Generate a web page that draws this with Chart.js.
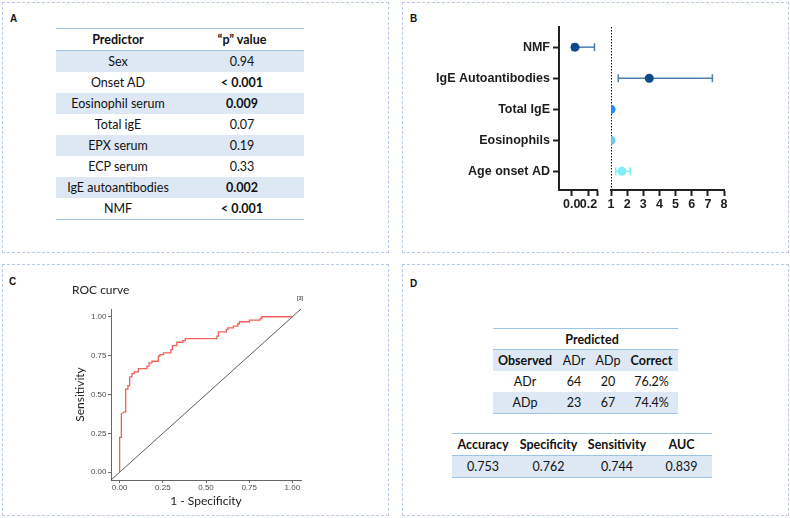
<!DOCTYPE html>
<html>
<head>
<meta charset="utf-8">
<script src="https://cdn.jsdelivr.net/npm/chart.js@4.4.1/dist/chart.umd.min.js"></script>
<style>
  body { margin: 0; background: #fff; }
  #page { position: relative; width: 790px; height: 518px; overflow: hidden; font-family: Lato, "Open Sans", sans-serif; color: #111; }
  .panel { position: absolute; border: 1px dashed #b7c9e6; box-sizing: border-box; }
  .tag { position: absolute; font: bold 10px "Liberation Sans", Arial, sans-serif; color: #111; }
  table { position: absolute; border-collapse: collapse; font-size: 12.5px; table-layout: fixed; }
  td, th { height: 21px; padding: 0; text-align: center; white-space: nowrap; }
  th { font-weight: bold; }
  .bline-top { border-top: 1.5px solid #9dc3e6; }
  .bline-bot { border-bottom: 1.5px solid #9dc3e6; }
  .shade { background: #dde8f4; }
  canvas { position: absolute; }
  #refTag { position: absolute; left: 297px; top: 295px; font: bold 5px "Liberation Sans", Arial, sans-serif; color: #555; }
</style>
</head>
<body>
<div id="page">
  <div class="panel" style="left:2px;top:2px;width:387px;height:251px"></div>
  <div class="panel" style="left:402px;top:2px;width:387px;height:251px"></div>
  <div class="panel" style="left:2px;top:264px;width:387px;height:252px"></div>
  <div class="panel" style="left:402px;top:264px;width:387px;height:252px"></div>
  <span class="tag" style="left:10px;top:13px">A</span>
  <span class="tag" style="left:410px;top:13px">B</span>
  <span class="tag" style="left:9px;top:276px">C</span>
  <span class="tag" style="left:410px;top:278px">D</span>

  <table id="tableA" style="left:56px;top:28px;width:248px">
    <colgroup><col style="width:124px"><col style="width:124px"></colgroup>
    <thead><tr><th class="bline-top bline-bot">Predictor</th><th class="bline-top bline-bot">“p” value</th></tr></thead>
    <tbody></tbody>
  </table>

  <canvas id="forestChart" width="380" height="235" style="left:402px;top:10px"></canvas>

  <canvas id="rocChart" width="262" height="230" style="left:60px;top:280px"></canvas>
  <span id="refTag">[3]</span>

  <table id="confTable" style="left:493px;top:328px;width:185px">
    <colgroup><col style="width:64px"><col style="width:34px"><col style="width:34px"><col style="width:53px"></colgroup>
    <tbody></tbody>
  </table>

  <table id="metricTable" style="left:452px;top:433px;width:260px">
    <colgroup><col style="width:62px"><col style="width:69px"><col style="width:68px"><col style="width:61px"></colgroup>
    <tbody></tbody>
  </table>
</div>

<script>
// panel A
const predictors = ["Sex", "Onset AD", "Eosinophil serum", "Total igE", "EPX serum", "ECP serum", "IgE autoantibodies", "NMF"];
const pValues = ["0.94", "< 0.001", "0.009", "0.07", "0.19", "0.33", "0.002", "< 0.001"];

// panel B
const forestLabels = ["NMF", "IgE Autoantibodies", "Total IgE", "Eosinophils", "Age onset AD"];
const oddsRatio = [0.04, 3.37, 1.0, 1.0, 1.67];
const ciLower = [0.005, 1.45, 0.99, 0.99, 1.29];
const ciUpper = [0.27, 7.28, 1.01, 1.01, 2.19];
const pointColors = ["#0c4a8a", "#0c4a8a", "#1d8ff2", "#6cc6f4", "#7eeef6"];
const ciColors = ["#4c7cb2", "#4c7cb2", "#1d8ff2", "#6cc6f4", "#7eeef6"];
const leftTicks = [0, 0.2, 0.3];
const rightTicks = [1, 2, 3, 4, 5, 6, 7, 8];

// panel C
const rocFpr = [0, 0, 0.01, 0.01, 0.025, 0.035, 0.035, 0.048, 0.048, 0.058, 0.058, 0.071, 0.071, 0.085, 0.085, 0.108, 0.108,
  0.158, 0.158, 0.17, 0.17, 0.187, 0.187, 0.224, 0.224, 0.233, 0.233, 0.254, 0.254, 0.297, 0.297, 0.306, 0.306,
  0.331, 0.331, 0.366, 0.366, 0.38, 0.38, 0.563, 0.563, 0.572, 0.572, 0.618, 0.618, 0.626, 0.626, 0.659, 0.659,
  0.684, 0.684, 0.694, 0.694, 0.751, 0.751, 0.813, 0.813, 0.823, 0.823, 1];
const rocTpr = [0, 0.224, 0.224, 0.376, 0.387, 0.387, 0.535, 0.535, 0.557, 0.557, 0.613, 0.613, 0.634, 0.634, 0.645, 0.645, 0.667,
  0.667, 0.682, 0.682, 0.703, 0.703, 0.714, 0.714, 0.746, 0.746, 0.757, 0.757, 0.768, 0.768, 0.789, 0.789, 0.815,
  0.815, 0.836, 0.836, 0.847, 0.847, 0.86, 0.86, 0.875, 0.875, 0.903, 0.903, 0.918, 0.918, 0.929, 0.929, 0.94,
  0.94, 0.955, 0.955, 0.968, 0.968, 0.979, 0.979, 0.989, 0.989, 1, 1];
const rocTicks = [0, 0.25, 0.5, 0.75, 1];

// panel D
const observedClasses = ["ADr", "ADp"];
const predictedADr = [64, 23];
const predictedADp = [20, 67];
const percentCorrect = ["76.2%", "74.4%"];
const metricNames = ["Accuracy", "Specificity", "Sensitivity", "AUC"];
const metricValues = [0.753, 0.762, 0.744, 0.839];

function isSignificant(p) {
    return p.startsWith("<") || parseFloat(p) < 0.05;
}

// table A
const bodyA = document.querySelector("#tableA tbody");
predictors.forEach(function (name, i) {
    const tr = document.createElement("tr");
    if (i % 2 === 0) tr.className = "shade";
    const last = i === predictors.length - 1 ? " bline-bot" : "";
    tr.innerHTML = '<td class="' + last + '">' + name + '</td><td class="' + last + '"' +
        (isSignificant(pValues[i]) ? ' style="font-weight:bold"' : '') + '>' + pValues[i] + '</td>';
    bodyA.appendChild(tr);
});

// tables D
const bodyConf = document.querySelector("#confTable tbody");
bodyConf.innerHTML =
    '<tr><th colspan="4" class="bline-top bline-bot" style="height:20px;padding-left:13px">Predicted</th></tr>' +
    '<tr class="shade"><th>Observed</th><td>' + observedClasses[0] + '</td><td>' + observedClasses[1] + '</td><th>Correct</th></tr>';
observedClasses.forEach(function (cls, i) {
    const last = i === observedClasses.length - 1 ? ' class="bline-bot"' : '';
    const tr = document.createElement("tr");
    if (i % 2 === 1) tr.className = "shade";
    tr.innerHTML = '<td' + last + '>' + cls + '</td><td' + last + '>' + predictedADr[i] + '</td><td' + last + '>' +
        predictedADp[i] + '</td><td' + last + '>' + percentCorrect[i] + '</td>';
    bodyConf.appendChild(tr);
});

const bodyMetric = document.querySelector("#metricTable tbody");
bodyMetric.innerHTML =
    '<tr>' + metricNames.map(n => '<th class="bline-top bline-bot">' + n + '</th>').join("") + '</tr>' +
    '<tr class="shade">' + metricValues.map(v => '<td class="bline-bot">' + v.toFixed(3) + '</td>').join("") + '</tr>';

// forest plot
const forestSets = [];
forestLabels.forEach(function (label, i) {
    const axis = oddsRatio[i] < 0.5 ? "xl" : "xr";
    forestSets.push({
        type: "scatter",
        xAxisID: axis, yAxisID: "y",
        data: [{ x: oddsRatio[i], y: i + 1 }],
        pointRadius: 4.5,
        pointBackgroundColor: pointColors[i],
        pointBorderWidth: 0,
        order: 0
    });
    forestSets.push({
        type: "line",
        showLine: true,
        xAxisID: axis, yAxisID: "y",
        data: [{ x: ciLower[i], y: i + 1 }, { x: ciUpper[i], y: i + 1 }],
        borderColor: ciColors[i],
        borderWidth: 1.5,
        pointStyle: "line",
        pointRotation: 90,
        pointRadius: 4,
        pointBorderColor: ciColors[i],
        pointBorderWidth: 1.5,
        order: 1
    });
});
// reference line at OR = 1
forestSets.push({
    type: "line",
    showLine: true,
    xAxisID: "xr", yAxisID: "y",
    data: [{ x: 1, y: 0.35 }, { x: 1, y: 5.6 }],
    borderColor: "#111",
    borderWidth: 2,
    borderDash: [1.5, 1.5],
    pointRadius: 0,
    order: 2
});

const boldFont = { family: "'Liberation Sans', Arial, sans-serif", size: 12.5, weight: "bold" };
const forestAxis = {
    type: "linear",
    position: "bottom",
    stack: "x",
    afterFit: function (s) { s.height = 55; },
    border: { color: "#222", width: 2 },
    grid: { drawOnChartArea: false, tickLength: 6, tickWidth: 2, tickColor: "#222" },
    ticks: { padding: 1, color: "#1c1c1c", font: boldFont, autoSkip: false, maxRotation: 0 }
};

new Chart(document.getElementById("forestChart"), {
    type: "scatter",
    data: { datasets: forestSets },
    options: {
        responsive: false,
        animation: false,
        devicePixelRatio: 1,
        layout: { padding: { left: 0, top: 17, right: 58, bottom: 0 } },
        plugins: { legend: { display: false }, tooltip: { enabled: false } },
        scales: {
            y: {
                type: "linear",
                position: "left",
                reverse: true,
                min: 0.35,
                max: 5.6,
                afterBuildTicks: function (s) { s.ticks = forestLabels.map((_, i) => ({ value: i + 1 })); },
                afterFit: function (s) { s.width = 157; },
                border: { color: "#222", width: 2 },
                grid: { drawOnChartArea: false, tickLength: 6, tickWidth: 2, tickColor: "#222" },
                ticks: { padding: 3, color: "#1c1c1c", font: boldFont, callback: v => forestLabels[v - 1] }
            },
            xl: Object.assign({}, forestAxis, {
                stackWeight: 38, weight: 1, min: -0.15, max: 0.3,
                afterBuildTicks: function (s) { s.ticks = leftTicks.map(v => ({ value: v })); },
                ticks: Object.assign({}, forestAxis.ticks, { callback: v => (v === 0.3 ? "" : v.toFixed(1)) })
            }),
            xg: {
                type: "linear", position: "bottom", stack: "x", stackWeight: 14, weight: 2,
                afterFit: function (s) { s.height = 55; },
                border: { display: false }, grid: { display: false }, ticks: { display: false }
            },
            xr: Object.assign({}, forestAxis, {
                stackWeight: 113, weight: 3, min: 1, max: 8,
                afterBuildTicks: function (s) { s.ticks = rightTicks.map(v => ({ value: v })); },
                ticks: Object.assign({}, forestAxis.ticks, { callback: v => String(v) })
            })
        }
    }
});

// ROC curve
const titleFont = { family: "Lato, sans-serif", size: 12, weight: "normal" };
const tickFont = { family: "'Liberation Sans', Arial, sans-serif", size: 8 };
const rocAxis = {
    type: "linear",
    min: -0.05,
    max: 1.05,
    afterBuildTicks: function (s) { s.ticks = rocTicks.map(v => ({ value: v })); },
    border: { color: "#666", width: 1 },
    grid: { drawOnChartArea: false, tickLength: 3, tickWidth: 1, tickColor: "#666" },
    ticks: { color: "#4d4d4d", font: tickFont, autoSkip: false, maxRotation: 0, callback: v => v.toFixed(2) }
};

new Chart(document.getElementById("rocChart"), {
    type: "scatter",
    data: {
        datasets: [
            {
                type: "line",
                showLine: true,
                data: rocFpr.map((x, i) => ({ x: x, y: rocTpr[i] })),
                borderColor: "#f0605c",
                borderWidth: 1.3,
                pointRadius: 0,
                tension: 0
            },
            {
                type: "line",
                showLine: true,
                data: [{ x: -0.05, y: -0.05 }, { x: 1.05, y: 1.05 }],
                borderColor: "#333",
                borderWidth: 0.8,
                pointRadius: 0
            }
        ]
    },
    options: {
        responsive: false,
        animation: false,
        devicePixelRatio: 1,
        layout: { padding: { left: 12, top: 0, right: 21, bottom: 0 } },
        plugins: {
            legend: { display: false },
            tooltip: { enabled: false },
            title: {
                display: true, text: "ROC curve", align: "start", color: "#222",
                font: titleFont, padding: { top: 3, bottom: 11.6 }
            }
        },
        scales: {
            x: Object.assign({}, rocAxis, {
                position: "bottom",
                afterFit: function (s) { s.height = 30; },
                ticks: Object.assign({}, rocAxis.ticks, { padding: 0 }),
                title: { display: true, text: "1 - Specificity", color: "#222", font: titleFont, padding: { top: 0, bottom: 2 } }
            }),
            y: Object.assign({}, rocAxis, {
                position: "left",
                afterFit: function (s) { s.width = 39; },
                ticks: Object.assign({}, rocAxis.ticks, { padding: 1.5 }),
                title: { display: true, text: "Sensitivity", color: "#222", font: titleFont, padding: { top: 1, bottom: 0 } }
            })
        }
    }
});
</script>
</body>
</html>
